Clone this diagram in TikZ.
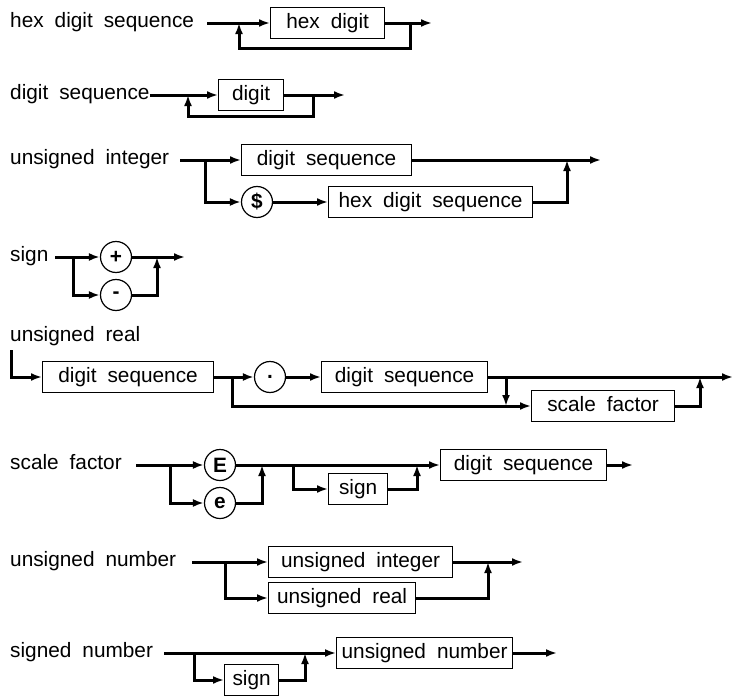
\documentclass[tikz,border=0pt]{standalone}
\usepackage{fontspec}
\setmainfont[WordSpace=1.9]{Liberation Sans}
\usetikzlibrary{arrows.meta}
\tikzset{
    prod/.style={anchor=west, inner sep=0pt, text height=15pt, text depth=4.5pt},
    box/.style={draw, line width=1.2pt, anchor=west, minimum height=31pt, inner sep=0pt,
        text height=15pt, text depth=4.5pt},
    lit/.style={draw, circle, line width=1.2pt, minimum size=31pt, inner sep=0pt,
        font=\fontsize{20.8pt}{25pt}\selectfont\bfseries},
    wire/.style={line width=3pt},
    flow/.style={wire, -{Latex[length=11pt,width=8pt]}}
}

\begin{document}
\begin{tikzpicture}[x=1pt, y=-1pt, every node/.append style={font=\fontsize{20.8pt}{25pt}\selectfont}]
    \useasboundingbox (0,0) rectangle (734,696);

    % hex digit sequence
    \node[prod] (hds) at (10,22) {hex digit sequence};
    \coordinate (hds-in) at (207,23);
    \coordinate (hds-up) at (239,23);
    \coordinate (hds-jn) at (410,23);
    \coordinate (hds-out) at (432,23);
    \node[box, minimum width=114pt] (hexdigit) at (270,23) {hex digit};
    \draw[flow] (hds-in) -- (hexdigit.west);
    \draw[flow] (hexdigit.east) -- (hds-out);
    \draw[flow] (hds-jn) -- ++(0,25) -| (hds-up);

    % digit sequence
    \node[prod] (ds) at (10,94) {digit sequence};
    \coordinate (ds-in) at (ds.east);
    \coordinate (ds-up) at (188,95);
    \coordinate (ds-jn) at (313,95);
    \coordinate (ds-out) at (345,95);
    \node[box, minimum width=65pt] (digit) at (218,95) {digit};
    \draw[flow] (ds-in |- digit.west) -- (digit.west);
    \draw[flow] (digit.east) -- (ds-out);
    \draw[flow] (ds-jn) -- ++(0,21) -| (ds-up);

    % unsigned integer
    \node[prod] (ui) at (10,159) {unsigned integer};
    \coordinate (ui-in) at (180,160);
    \coordinate (ui-br) at (205,160);
    \coordinate (ui-jn) at (567,160);
    \coordinate (ui-out) at (601,160);
    \node[box, minimum width=170pt] (uidseq) at (241,160) {digit sequence};
    \node[lit] (dollar) at (257,202) {\$};
    \node[box, minimum width=204pt] (uihex) at (328,202) {hex digit sequence};
    \draw[flow] (ui-in) -- (uidseq.west);
    \draw[flow] (uidseq.east) -- (ui-out);
    \draw[flow] (ui-br) |- (dollar.west);
    \draw[flow] (dollar.east) -- (uihex.west);
    \draw[flow] (uihex.east) -| (ui-jn);

    % sign
    \node[prod] (sg) at (10,256) {sign};
    \coordinate (sg-in) at (55,257);
    \coordinate (sg-br) at (73,257);
    \coordinate (sg-jn) at (157,257);
    \coordinate (sg-out) at (185,257);
    \node[lit] (plus) at (116,257) {+};
    \node[lit] (minus) at (116,295) {-};
    \draw[flow] (sg-in) -- (plus.west);
    \draw[flow] (sg-br) |- (minus.west);
    \draw[flow] (plus.east) -- (sg-out);
    \draw[flow] (minus.east) -| (sg-jn);

    % unsigned real
    \node[prod] (ur) at (10,336) {unsigned real};
    \coordinate (ur-in) at (11,350);
    \coordinate (ur-br) at (232,377);
    \coordinate (ur-dn) at (506,377);
    \coordinate (ur-jn) at (700,377);
    \coordinate (ur-out) at (733,377);
    \node[box, minimum width=171pt] (urdseq) at (42,377) {digit sequence};
    \node[lit] (dot) at (270,377) {.};
    \node[box, minimum width=166pt] (urfrac) at (321,377) {digit sequence};
    \node[box, minimum width=143pt] (urscale) at (531,406) {scale factor};
    \draw[flow] (ur-in) |- (urdseq.west);
    \draw[flow] (urdseq.east) -- (dot.west);
    \draw[flow] (dot.east) -- (urfrac.west);
    \draw[flow] (urfrac.east) -- (ur-out);
    \draw[flow] (ur-br) |- (urscale.west);
    \draw[flow] (ur-dn) -- (ur-dn |- urscale.west);
    \draw[flow] (urscale.east) -| (ur-jn);

    % scale factor
    \node[prod] (sf) at (10,464) {scale factor};
    \coordinate (sf-in) at (136,465);
    \coordinate (sf-br) at (170,465);
    \coordinate (sf-up) at (262,465);
    \coordinate (sf-br2) at (293,465);
    \coordinate (sf-jn) at (417,465);
    \coordinate (sf-out) at (633,465);
    \node[lit] (bigE) at (220,465) {E};
    \node[lit] (smallE) at (220,503) {e};
    \node[box, minimum width=59pt] (sfsign) at (328,489) {sign};
    \node[box, minimum width=166pt] (sfdseq) at (440,465) {digit sequence};
    \draw[flow] (sf-in) -- (bigE.west);
    \draw[flow] (sf-br) |- (smallE.west);
    \draw[flow] (smallE.east) -| (sf-up);
    \draw[flow] (bigE.east) -- (sfdseq.west);
    \draw[flow] (sf-br2) |- (sfsign.west);
    \draw[flow] (sfsign.east) -| (sf-jn);
    \draw[flow] (sfdseq.east) -- (sf-out);

    % unsigned number
    \node[prod] (un) at (10,561) {unsigned number};
    \coordinate (un-in) at (192,562);
    \coordinate (un-br) at (225,562);
    \coordinate (un-jn) at (488,562);
    \coordinate (un-out) at (523,562);
    \node[box, minimum width=184pt] (unint) at (268,562) {unsigned integer};
    \node[box, minimum width=147pt] (unreal) at (268,598) {unsigned real};
    \draw[flow] (un-in) -- (unint.west);
    \draw[flow] (un-br) |- (unreal.west);
    \draw[flow] (unint.east) -- (un-out);
    \draw[flow] (unreal.east) -| (un-jn);

    % signed number
    \node[prod] (sn) at (10,652) {signed number};
    \coordinate (sn-in) at (164,653);
    \coordinate (sn-br) at (194,653);
    \coordinate (sn-jn) at (305,653);
    \coordinate (sn-out) at (557,653);
    \node[box, minimum width=54pt] (snsign) at (224,680) {sign};
    \node[box, minimum width=176pt] (snnum) at (336,653) {unsigned number};
    \draw[flow] (sn-in) -- (snnum.west);
    \draw[flow] (sn-br) |- (snsign.west);
    \draw[flow] (snsign.east) -| (sn-jn);
    \draw[flow] (snnum.east) -- (sn-out);
\end{tikzpicture}
\end{document}
